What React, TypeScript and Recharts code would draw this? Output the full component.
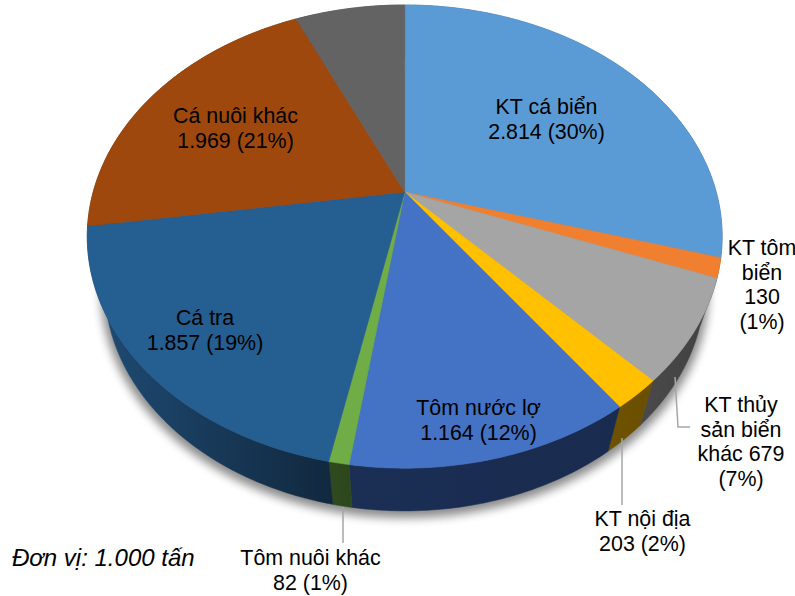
import React from "react";
import { PieChart, Pie } from "recharts";

const categories = ["KT cá biển", "KT tôm biển", "KT thủy sản biển khác", "KT nội địa", "Tôm nước lợ", "Tôm nuôi khác", "Cá tra", "Cá nuôi khác", "Khác"];
const values = [2814, 130, 679, 203, 1164, 82, 1857, 1969, 641];
const topColors = ["#5B9BD5", "#F08030", "#A5A5A5", "#FFC000", "#4472C4", "#70AD47", "#255E91", "#9E480E", "#636363"];
const sideFrom = ["#2F5F8E", "#8A4A1E", "#4A4A4A", "#6E5200", "#1B2E54", "#2F4A1E", "#1F4C75", "#5A2A08", "#3A3A3A"];
const sideTo = ["#2F5F8E", "#8A4A1E", "#404040", "#6A4F00", "#192B4E", "#2D471C", "#11283E", "#5A2A08", "#3A3A3A"];
const labelLines = [
  ["KT cá biển", "2.814 (30%)"],
  ["KT tôm", "biển", "130", "(1%)"],
  ["KT thủy", "sản biển", "khác 679", "(7%)"],
  ["KT nội địa", "203 (2%)"],
  ["Tôm nước lợ", "1.164 (12%)"],
  ["Tôm nuôi khác", "82 (1%)"],
  ["Cá tra", "1.857 (19%)"],
  ["Cá nuôi khác", "1.969 (21%)"],
  [],
];
const note = "Đơn vị: 1.000 tấn";

// Label placement, separate from the values.
const labelAnchors: ([number, number] | null)[] = [
  [546.5, 114], [762, 255], [741, 412], [642.5, 526], [478.5, 415], [310.5, 565], [205, 325], [235.5, 123], null,
];
const leaderLines: (string | null)[] = [
  null, null, "M675,377 L678,427 L690,427", "M622,438 L622,505", null, "M343,507 L343,543", null, null, null,
];

const tableData = categories.map((name, i) => ({
  name,
  value: values[i],
  fill: topColors[i],
  sideFrom: sideFrom[i],
  sideTo: sideTo[i],
}));

const FONT = "'Liberation Sans', Arial, sans-serif";
const WIDTH = 795;
const HEIGHT = 596;
const CX = 404.7;
const CY = 192;
const R = 311.5;

// Perspective of the tilted disc: vertical ratio and foreshortening.
const TOP = { dy: 0, r: 1, h: 223 / 311.5, p: 0.1925 };
const BOTTOM = { dy: 50.4, r: 294.3 / 311.5, h: 216.5 / 311.5, p: 0.1937 };

type Level = typeof TOP;
function project(cx: number, cy: number, radius: number, angle: number, lv: Level): [number, number] {
  const a = ((90 - angle) * Math.PI) / 180;
  const s = Math.sin(a);
  const c = Math.cos(a);
  const w = 1 + lv.p * c;
  return [cx + (radius * lv.r * s) / w, cy + lv.dy - (radius * lv.h * c) / w];
}

function rim(cx: number, cy: number, radius: number, from: number, to: number, lv: Level) {
  const n = Math.max(2, Math.ceil(Math.abs(to - from)));
  const pts: string[] = [];
  for (let i = 0; i <= n; i++) {
    const [x, y] = project(cx, cy, radius, from + ((to - from) * i) / n, lv);
    pts.push(`${x.toFixed(2)},${y.toFixed(2)}`);
  }
  return pts;
}

function TopSlice(props: any) {
  const { cx, cy, outerRadius, startAngle, endAngle, fill } = props;
  const d = `M${cx},${cy} L${rim(cx, cy, outerRadius, startAngle, endAngle, TOP).join(" L")} Z`;
  return <path d={d} fill={fill} stroke={fill} strokeWidth={0.6} />;
}

function SideSlice(props: any) {
  const { cx, cy, outerRadius, startAngle, endAngle, name } = props;
  const from = props.sideFrom ?? props.payload?.sideFrom;
  const to = props.sideTo ?? props.payload?.sideTo;
  const topRim = rim(cx, cy, outerRadius, startAngle, endAngle, TOP);
  const bottomRim = rim(cx, cy, outerRadius, startAngle, endAngle, BOTTOM).reverse();
  const d = `M${topRim.join(" L")} L${bottomRim.join(" L")} Z`;
  const xs = topRim.concat(bottomRim).map((p) => parseFloat(p.split(",")[0]));
  const id = `side-${categories.indexOf(name)}`;
  const isFirst = categories.indexOf(name) === 0;
  return (
    <g>
      {isFirst && (
        <g>
          <defs>
            <filter id="pieShadow" x="-10%" y="-10%" width="120%" height="120%">
              <feGaussianBlur stdDeviation="5" />
            </filter>
          </defs>
          <ellipse cx={cx} cy={cy + 99} rx={304} ry={227} fill="#000" opacity={0.45} filter="url(#pieShadow)" />
        </g>
      )}
      <defs>
        <linearGradient id={id} gradientUnits="userSpaceOnUse" x1={Math.min(...xs)} x2={Math.max(...xs)} y1={0} y2={0}>
          <stop offset="0" stopColor={from} />
          <stop offset="1" stopColor={to} />
        </linearGradient>
      </defs>
      <path d={d} fill={`url(#${id})`} stroke={`url(#${id})`} strokeWidth={0.5} />
    </g>
  );
}

function SliceLabel(props: any) {
  const i = categories.indexOf(props.name);
  const anchor = labelAnchors[i];
  const leader = leaderLines[i];
  if (!anchor) return <g />;
  return (
    <g>
      {leader && <path d={leader} fill="none" stroke="#A6A6A6" strokeWidth={1.5} />}
      <text x={anchor[0]} y={anchor[1]} textAnchor="middle" fontFamily={FONT} fontSize={21.4} fill="#000">
        {labelLines[i].map((line, k) => (
          <tspan key={k} x={anchor[0]} dy={k === 0 ? 0 : 24.7}>
            {line}
          </tspan>
        ))}
      </text>
    </g>
  );
}

export default function App() {
  return (
    <div style={{ position: "absolute", left: 0, top: 0, width: WIDTH, height: HEIGHT, overflow: "hidden", background: "#fff" }}>
      <PieChart width={WIDTH} height={HEIGHT} margin={{ top: 0, right: 0, bottom: 0, left: 0 }}>
        <Pie
          data={tableData}
          dataKey="value"
          nameKey="name"
          cx={CX}
          cy={CY}
          outerRadius={R}
          innerRadius={0}
          startAngle={90}
          endAngle={-270}
          stroke="none"
          isAnimationActive={false}
          shape={SideSlice}
          rootTabIndex={-1}
        />
        <Pie
          data={tableData}
          dataKey="value"
          nameKey="name"
          cx={CX}
          cy={CY}
          outerRadius={R}
          innerRadius={0}
          startAngle={90}
          endAngle={-270}
          stroke="none"
          isAnimationActive={false}
          shape={TopSlice}
          label={SliceLabel}
          labelLine={false}
          rootTabIndex={-1}
        />
      </PieChart>
      <div
        style={{
          position: "absolute",
          left: 12,
          top: 544,
          fontFamily: FONT,
          fontStyle: "italic",
          fontSize: 24,
          lineHeight: "27px",
          color: "#000",
          whiteSpace: "nowrap",
        }}
      >
        {note}
      </div>
    </div>
  );
}
